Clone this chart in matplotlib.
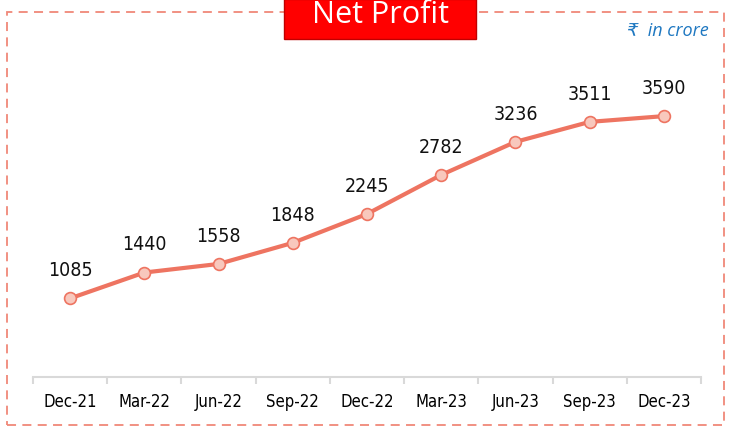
import matplotlib.pyplot as plt
from matplotlib.patches import Rectangle

quarters = ['Dec-21', 'Mar-22', 'Jun-22', 'Sep-22', 'Dec-22',
            'Mar-23', 'Jun-23', 'Sep-23', 'Dec-23']
net_profit = [1085, 1440, 1558, 1848, 2245, 2782, 3236, 3511, 3590]

W, H = 730, 430
fig = plt.figure(figsize=(W / 100, H / 100), dpi=100)

# dashed frame around the whole panel
fig.patches.append(Rectangle((7 / W, 1 - 425 / H), 717 / W, 413 / H,
                             transform=fig.transFigure, fill=False,
                             edgecolor='#f08878', linewidth=1.3,
                             linestyle=(0, (5, 3.5))))

# red title box
fig.patches.append(Rectangle((284 / W, 1 - 39 / H), 192 / W, 40 / H,
                             transform=fig.transFigure, facecolor='#ff0000',
                             edgecolor='#c00000', linewidth=1, zorder=3))
fig.text(380 / W, 1 - 15 / H, 'Net Profit', color='white', fontsize=22,
         family='Open Sans', ha='center', va='center', zorder=4)

fig.text(709 / W, 1 - 31 / H, '₹  in crore', color='#1f78c1', fontsize=13,
         style='italic', family=['Open Sans', 'DejaVu Sans'],
         ha='right', va='center')

ax = fig.add_axes([33 / W, 52.7 / H, 668 / W, 291 / H])
x = range(len(quarters))
ax.plot(x, net_profit, color='#ee7461', linewidth=3, marker='o',
        markersize=8.5, markerfacecolor='#f8c8bd', markeredgecolor='#ee7461',
        markeredgewidth=1.2, zorder=3, clip_on=False)

for xi, v in zip(x, net_profit):
    ax.annotate(str(v), (xi, v), xytext=(0, 13), textcoords='offset points',
                ha='center', va='bottom', fontsize=14, fontstretch='condensed',
                color='#111111')

ax.set_xlim(-0.5, len(quarters) - 0.5)
ax.set_ylim(0, 4000)
ax.set_xticks(list(x))
ax.set_xticklabels(quarters, fontsize=12, fontstretch='condensed')
ax.set_xticks([i - 0.5 for i in range(len(quarters) + 1)], minor=True)
ax.tick_params(axis='x', which='major', length=0, pad=11)
ax.tick_params(axis='x', which='minor', length=5, color='#d9d9d9', width=1.5)
ax.set_yticks([])
for side in ['left', 'right', 'top']:
    ax.spines[side].set_visible(False)
ax.spines['bottom'].set_color('#d9d9d9')
ax.spines['bottom'].set_linewidth(1.5)

fig.savefig('out.png', dpi=100)
